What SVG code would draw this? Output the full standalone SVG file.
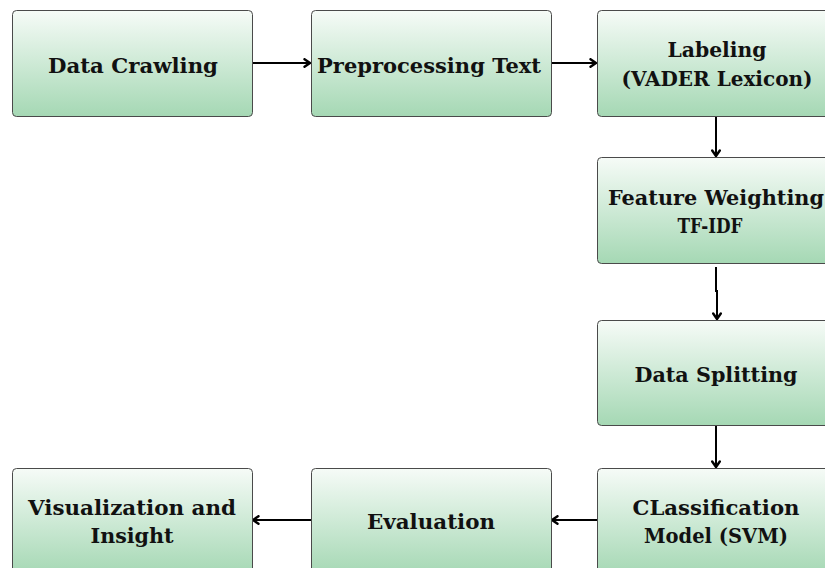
<svg xmlns="http://www.w3.org/2000/svg" width="825" height="568" viewBox="0 0 825 568">
  <defs>
    <linearGradient id="boxFill" x1="0" y1="0" x2="0" y2="1">
      <stop offset="0" stop-color="#f6fbf7"/>
      <stop offset="1" stop-color="#a5d8b4"/>
    </linearGradient>
    <marker id="arrow" viewBox="0 0 10 10" refX="9" refY="5" markerWidth="10" markerHeight="10" markerUnits="userSpaceOnUse" orient="auto">
      <polyline points="3.5,1.2 9,5 3.5,8.8" fill="none" stroke="#000" stroke-width="2.4" stroke-linecap="round" stroke-linejoin="round"/>
    </marker>
  </defs>
  <style>
    .box { fill: url(#boxFill); stroke: #4a4a4a; stroke-width: 1; }
    .label { font-family: "DejaVu Serif", "Liberation Serif", serif; font-weight: bold; font-size: 21px; fill: #111; text-anchor: middle; }
    .edge { fill: none; stroke: #000; stroke-width: 2; marker-end: url(#arrow); }
  </style>
  <rect width="825" height="568" fill="#fff"/>

  <g id="connectors">
    <path class="edge" d="M252,63 H310"/>
    <path class="edge" d="M551,63 H596"/>
    <path class="edge" d="M716,116 V156"/>
    <path class="edge" d="M716,267 V292 M717,290 V319"/>
    <path class="edge" d="M716,425 V467"/>
    <path class="edge" d="M597,520 H552"/>
    <path class="edge" d="M311,520 H253"/>
  </g>

  <g id="data-crawling">
    <rect class="box" x="12.5" y="10.5" width="240" height="106" rx="4"/>
    <text class="label" x="133" y="73" textLength="170" lengthAdjust="spacingAndGlyphs">Data Crawling</text>
  </g>
  <g id="preprocessing-text">
    <rect class="box" x="311.5" y="10.5" width="240" height="106" rx="4"/>
    <text class="label" x="429" y="73" textLength="224" lengthAdjust="spacingAndGlyphs">Preprocessing Text</text>
  </g>
  <g id="labeling">
    <rect class="box" x="597.5" y="10.5" width="240" height="106" rx="4"/>
    <text class="label" x="717" y="57" textLength="99" lengthAdjust="spacingAndGlyphs">Labeling</text>
    <text class="label" x="717" y="86" textLength="191" lengthAdjust="spacingAndGlyphs">(VADER Lexicon)</text>
  </g>
  <g id="feature-weighting">
    <rect class="box" x="597.5" y="157.5" width="240" height="106" rx="4"/>
    <text class="label" x="716" y="205" textLength="216" lengthAdjust="spacingAndGlyphs">Feature Weighting</text>
    <text class="label" x="710" y="233" textLength="65" lengthAdjust="spacingAndGlyphs">TF-IDF</text>
  </g>
  <g id="data-splitting">
    <rect class="box" x="597.5" y="320.5" width="240" height="105" rx="4"/>
    <text class="label" x="716" y="382" textLength="163" lengthAdjust="spacingAndGlyphs">Data Splitting</text>
  </g>
  <g id="classification-model">
    <rect class="box" x="597.5" y="468.5" width="240" height="106" rx="4"/>
    <text class="label" x="716" y="515" textLength="167" lengthAdjust="spacingAndGlyphs">CLassification</text>
    <text class="label" x="716" y="543" textLength="144" lengthAdjust="spacingAndGlyphs">Model (SVM)</text>
  </g>
  <g id="evaluation">
    <rect class="box" x="311.5" y="468.5" width="240" height="106" rx="4"/>
    <text class="label" x="431" y="529" textLength="128" lengthAdjust="spacingAndGlyphs">Evaluation</text>
  </g>
  <g id="visualization-insight">
    <rect class="box" x="12.5" y="468.5" width="240" height="106" rx="4"/>
    <text class="label" x="132" y="515" textLength="208" lengthAdjust="spacingAndGlyphs">Visualization and</text>
    <text class="label" x="132" y="543" textLength="83" lengthAdjust="spacingAndGlyphs">Insight</text>
  </g>
</svg>
